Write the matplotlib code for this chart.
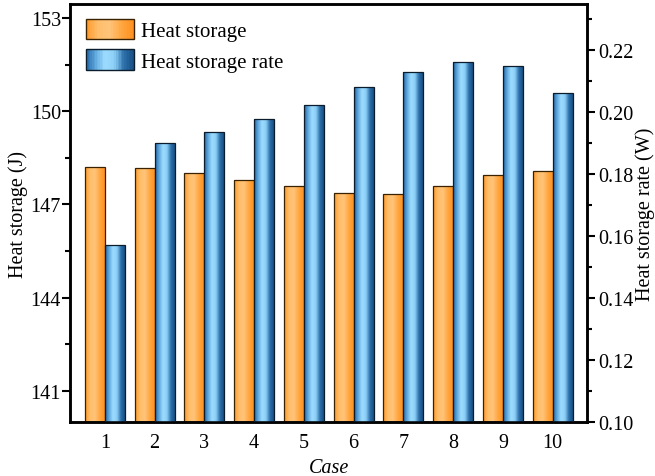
import matplotlib
matplotlib.use("Agg")
import matplotlib.pyplot as plt
import numpy as np
from matplotlib.colors import LinearSegmentedColormap
from matplotlib.legend_handler import HandlerBase
from matplotlib.patches import Rectangle
from matplotlib.ticker import MultipleLocator

plt.rcParams["font.family"] = ["Liberation Serif", "DejaVu Serif"]

cases = [1, 2, 3, 4, 5, 6, 7, 8, 9, 10]
heat_storage = [148.19, 148.16, 148.00, 147.80, 147.58, 147.37, 147.34, 147.58, 147.94, 148.09]
storage_rate = [0.1573, 0.1902, 0.1936, 0.1977, 0.2024, 0.2082, 0.2132, 0.2162, 0.2150, 0.2064]

orange_cmap = LinearSegmentedColormap.from_list(
    "orange", ["#FF9526", "#FFBE6A", "#FFC47A", "#FFA640", "#FF9020"])
blue_cmap = LinearSegmentedColormap.from_list(
    "blue", ["#1F62A3", "#5FA7DC", "#9DDCFF", "#8CCFF6", "#2C6FAA", "#184F84"])


class GradientHandler(HandlerBase):
    def __init__(self, cmap, edge):
        super().__init__()
        self.cmap = cmap
        self.edge = edge

    def create_artists(self, legend, orig_handle, xdescent, ydescent,
                       width, height, fontsize, trans):
        artists = []
        n = 30
        for i in range(n):
            r = Rectangle((-xdescent + width * i / n, -ydescent), width / n + 0.3, height,
                          facecolor=self.cmap((i + 0.5) / n), edgecolor="none",
                          transform=trans)
            artists.append(r)
        artists.append(Rectangle((-xdescent, -ydescent), width, height,
                                 facecolor="none", edgecolor=self.edge, lw=1.0,
                                 transform=trans))
        return artists


def shade_bars(ax, bars, cmap):
    grad = np.linspace(0, 1, 256).reshape(1, -1)
    for b in bars:
        x0, y0 = b.get_x(), b.get_y()
        w, h = b.get_width(), b.get_height()
        im = ax.imshow(grad, extent=[x0, x0 + w, y0, y0 + h], cmap=cmap,
                       aspect="auto", origin="lower", zorder=2, interpolation="bicubic")
        im.set_clip_path(b)


fig = plt.figure(figsize=(6.55, 4.77), dpi=100)
ax = fig.add_axes([0.1069, 0.1132, 0.7893, 0.8763])
ax2 = ax.twinx()

x = np.array(cases)
w = 0.4
b1 = ax.bar(x - w / 2, [v - 140 for v in heat_storage], w, bottom=140,
            facecolor="none", edgecolor="#3a2200", lw=0.9, zorder=3)
b2 = ax2.bar(x + w / 2, [v - 0.10 for v in storage_rate], w, bottom=0.10,
             facecolor="none", edgecolor="#0b1c2c", lw=0.9, zorder=3)
shade_bars(ax, b1, orange_cmap)
shade_bars(ax2, b2, blue_cmap)

ax.set_xlim(0.3, 10.69)
ax.set_ylim(140, 153.45)
ax2.set_ylim(0.10, 0.235)

ax.set_xticks(cases)
ax.set_xticklabels([str(c) for c in cases])
ax.set_yticks([141, 144, 147, 150, 153])
ax.yaxis.set_minor_locator(MultipleLocator(1.5))
ax2.set_yticks([0.10, 0.12, 0.14, 0.16, 0.18, 0.20, 0.22])
ax2.yaxis.set_minor_locator(MultipleLocator(0.01))

fs = 14.5
ax.tick_params(axis="x", direction="in", length=4, width=1.5, labelsize=fs, pad=8)
ax.tick_params(axis="y", which="major", direction="out", length=6, width=1.5,
               labelsize=fs, pad=0.5)
ax.tick_params(axis="y", which="minor", direction="out", length=3.5, width=1.5)
ax2.tick_params(axis="y", which="major", direction="out", length=6, width=1.5,
                labelsize=fs, pad=2)
ax2.tick_params(axis="y", which="minor", direction="out", length=3.5, width=1.5)
for a in (ax, ax2):
    for s in a.spines.values():
        s.set_linewidth(1.8)

ax.set_xlabel("Case", fontsize=fs, style="italic", labelpad=4)
ax.set_ylabel("Heat storage (J)", fontsize=fs)
ax2.set_ylabel("Heat storage rate (W)", fontsize=fs)
ax.yaxis.set_label_coords(-0.081, 0.5)
ax2.yaxis.set_label_coords(1.093, 0.5)

h1 = Rectangle((0, 0), 1, 1)
h2 = Rectangle((0, 0), 1, 1)
ax.legend([h1, h2], ["Heat storage", "Heat storage rate"],
          handler_map={h1: GradientHandler(orange_cmap, "#3a2200"),
                       h2: GradientHandler(blue_cmap, "#0b1c2c")},
          loc="upper left", bbox_to_anchor=(0.006, 0.995), frameon=False,
          fontsize=15, handlelength=2.3, handleheight=1.15, labelspacing=0.4,
          handletextpad=0.35, borderaxespad=0.2)

fig.savefig("out.png", dpi=100)
